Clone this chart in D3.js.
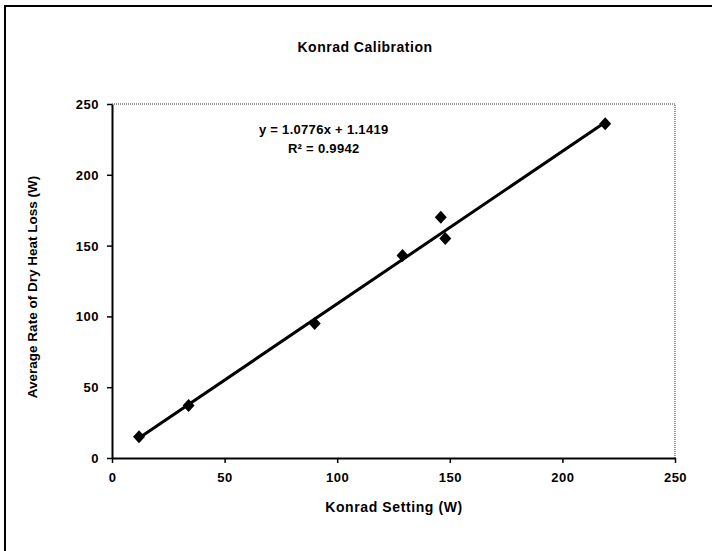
<!DOCTYPE html>
<html lang="en">
<head>
    <meta charset="UTF-8">
    <title>Konrad Calibration</title>
    <script src="https://d3js.org/d3.v7.min.js"></script>
    <style>
        body {
            margin: 0;
            background: #ffffff;
        }
        svg text {
            font-family: "Liberation Sans", Arial, sans-serif;
            font-weight: bold;
            fill: #000;
        }
    </style>
</head>
<body>
    <div id="chart"></div>
    <script>
        // Measured points (Konrad setting vs average dry heat loss)
        const settings = [12, 34, 90, 129, 146, 148, 219];
        const heatLoss = [15, 37, 95, 143, 170, 155, 236];
        const xTicks = [0, 50, 100, 150, 200, 250];
        const yTicks = [0, 50, 100, 150, 200, 250];
        const slope = 1.0776;
        const intercept = 1.1419;
        const equationLines = ["y = 1.0776x + 1.1419", "R² = 0.9942"];

        const W = 712, H = 551;
        const margin = { top: 104, right: 37, bottom: 93, left: 112 };
        const width = W - margin.left - margin.right;
        const height = H - margin.top - margin.bottom;

        const root = d3.select("#chart")
            .append("svg")
            .attr("width", W)
            .attr("height", H);

        // outer chart frame (only top and left edges show in the scan)
        root.append("path")
            .attr("d", `M5,${H} L5,6 L${W},6`)
            .attr("fill", "none")
            .attr("stroke", "#000")
            .attr("stroke-width", 2);

        root.append("text")
            .attr("x", 365)
            .attr("y", 52)
            .attr("text-anchor", "middle")
            .style("font-size", "14px")
            .style("letter-spacing", "0.5px")
            .text("Konrad Calibration");

        const svg = root.append("g")
            .attr("transform", `translate(${margin.left},${margin.top})`);

        const x = d3.scaleLinear().domain([0, 250]).range([0, width]);
        const y = d3.scaleLinear().domain([0, 250]).range([height, 0]);

        // dotted plot area border on top and right
        svg.append("path")
            .attr("d", `M0,0 L${width},0 L${width},${height}`)
            .attr("fill", "none")
            .attr("stroke", "#777")
            .attr("stroke-width", 1.5)
            .attr("stroke-dasharray", "1,1");

        // axes
        const xAxis = svg.append("g")
            .attr("transform", `translate(0,${height})`)
            .call(d3.axisBottom(x).tickValues(xTicks).tickSize(5).tickSizeOuter(0).tickPadding(6));
        const yAxis = svg.append("g")
            .call(d3.axisLeft(y).tickValues(yTicks).tickSize(5).tickSizeOuter(0).tickPadding(8));

        [xAxis, yAxis].forEach(a => {
            a.select(".domain").attr("stroke", "#000").attr("stroke-width", 2);
            a.selectAll(".tick line").attr("stroke", "#000").attr("stroke-width", 1.5);
            a.selectAll(".tick text")
                .style("font-size", "13px")
                .style("letter-spacing", "0.5px")
                .style("font-family", "'Liberation Sans', Arial, sans-serif")
                .style("font-weight", "bold");
        });
        xAxis.selectAll(".tick text").attr("dy", "1em");
        yAxis.selectAll(".tick text").attr("dy", "0.35em");

        // axis titles
        root.append("text")
            .attr("x", 394)
            .attr("y", 512)
            .attr("text-anchor", "middle")
            .style("font-size", "14px")
            .style("letter-spacing", "0.6px")
            .text("Konrad Setting (W)");

        root.append("text")
            .attr("transform", `translate(37,${margin.top + height / 2 + 6}) rotate(-90)`)
            .attr("text-anchor", "middle")
            .style("font-size", "13.5px")
            .text("Average Rate of Dry Heat Loss (W)");

        // trend line over the data range
        const xMin = d3.min(settings), xMax = d3.max(settings);
        svg.append("line")
            .attr("x1", x(xMin))
            .attr("y1", y(slope * xMin + intercept))
            .attr("x2", x(xMax))
            .attr("y2", y(slope * xMax + intercept))
            .attr("stroke", "#000")
            .attr("stroke-width", 3);

        // diamond markers
        const diamond = "M0,-6.5 L6,0 L0,6.5 L-6,0 Z";
        svg.selectAll("path.pt")
            .data(settings.map((s, i) => ({ s, h: heatLoss[i] })))
            .enter()
            .append("path")
            .attr("class", "pt")
            .attr("d", diamond)
            .attr("transform", d => `translate(${x(d.s)},${y(d.h)})`)
            .attr("fill", "#000");

        // regression equation
        svg.append("g")
            .selectAll("text")
            .data(equationLines)
            .enter()
            .append("text")
            .attr("x", x(94))
            .attr("y", (d, i) => y(229) + i * 19)
            .attr("text-anchor", "middle")
            .style("font-size", "13px")
            .style("letter-spacing", "0.3px")
            .text(d => d);
    </script>
</body>
</html>
